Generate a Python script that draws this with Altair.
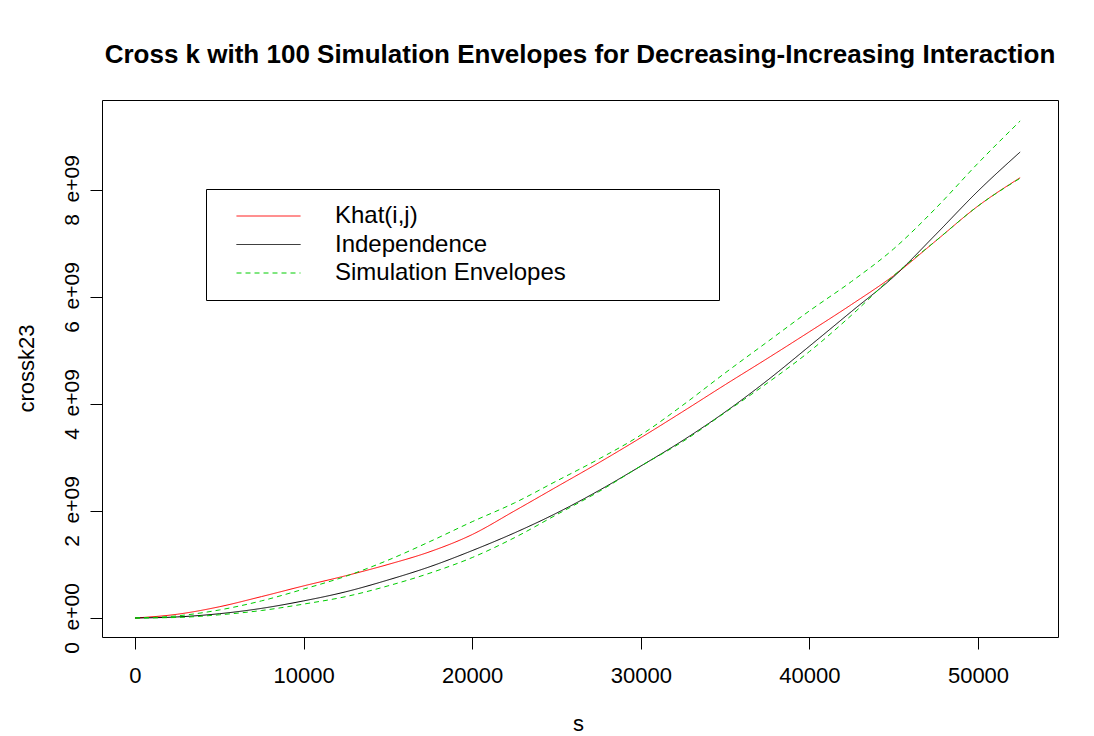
import altair as alt
import pandas as pd

# distance s
s_vals = [0, 2500, 5000, 7500, 10000, 12500, 15000, 17500, 20000, 22500, 25000,
          27500, 30000, 32500, 35000, 37500, 40000, 42500, 45000, 47500, 50000, 52500]
# values in units of 1e9
khat = [0.00, 0.07, 0.21, 0.40, 0.60, 0.79, 1.00, 1.24, 1.56, 2.00, 2.45,
        2.90, 3.37, 3.86, 4.36, 4.85, 5.35, 5.86, 6.40, 7.05, 7.70, 8.23]
indep = [0.00, 0.02, 0.08, 0.18, 0.32, 0.49, 0.71, 0.96, 1.26, 1.59, 1.96,
         2.38, 2.84, 3.32, 3.85, 4.44, 5.08, 5.73, 6.38, 7.17, 7.98, 8.71]
env_upper = [0.00, 0.04, 0.15, 0.32, 0.54, 0.78, 1.08, 1.43, 1.80, 2.15, 2.56,
             2.97, 3.42, 3.98, 4.58, 5.16, 5.74, 6.29, 6.90, 7.66, 8.50, 9.29]
env_lower = [0.00, 0.01, 0.06, 0.14, 0.26, 0.40, 0.60, 0.84, 1.13, 1.50, 1.93,
             2.36, 2.84, 3.30, 3.84, 4.39, 4.98, 5.66, 6.40, 7.05, 7.70, 8.22]

series_names = ["Khat(i,j)", "Independence", "Simulation Envelopes"]
series_colors = ["#FF0000", "#000000", "#00CD00"]
series_dash = [[1, 0], [1, 0], [5, 4]]

x_ticks = [0, 10000, 20000, 30000, 40000, 50000]
y_ticks = [0, 2, 4, 6, 8]

rows = []
for name, line, vals in [
    (series_names[0], "khat", khat),
    (series_names[1], "indep", indep),
    (series_names[2], "upper", env_upper),
    (series_names[2], "lower", env_lower),
]:
    for i, (s, v) in enumerate(zip(s_vals, vals)):
        rows.append({"s": s, "crossk23": v, "series": name, "line": line, "order": i})
df = pd.DataFrame(rows)

FONT = "Liberation Sans, Arial, sans-serif"
NB = "\u00a0"
# invisible spacer title that widens the legend box to the reference's width
SPACER = "MMMMMM"

chart = alt.Chart(df).mark_line(strokeWidth=1, interpolate="monotone").encode(
    x=alt.X("s:Q",
            scale=alt.Scale(domain=[-1957, 54745], nice=False, zero=False),
            axis=alt.Axis(values=x_ticks, format="d", title="s", domain=False, grid=False,
                          tickSize=12, tickColor="black", labelFontSize=22, labelColor="black",
                          labelPadding=16, labelFont=FONT, titleFont=FONT, titleFontSize=22,
                          titleFontWeight="normal", titleColor="black",
                          titleX=476, titleY=93, titleBaseline="alphabetic")),
    y=alt.Y("crossk23:Q",
            scale=alt.Scale(domain=[-0.355, 9.682], nice=False, zero=False),
            axis=alt.Axis(values=y_ticks, title="crossk23", domain=False, grid=False,
                          tickSize=12, tickColor="black", labelFontSize=21, labelColor="black",
                          labelAngle=-90, labelAlign="center", labelBaseline="alphabetic",
                          labelPadding=12, labelFont=FONT,
                          labelExpr="datum.value == 0 ? '0" + NB*2 + "e+00' : datum.value + '" + NB*2 + "e+09'",
                          titleFont=FONT, titleFontSize=22, titleFontWeight="normal",
                          titleColor="black", titleAngle=-90, titleX=-69, titleY=268,
                          titleBaseline="alphabetic", titleAlign="center")),
    color=alt.Color("series:N",
                    scale=alt.Scale(domain=series_names, range=series_colors),
                    legend=alt.Legend(title=SPACER)),
    strokeDash=alt.StrokeDash("series:N",
                              scale=alt.Scale(domain=series_names, range=series_dash),
                              legend=alt.Legend(title=SPACER)),
    detail="line:N",
    order="order:Q",
).properties(
    width=956,
    height=537,
    title=alt.TitleParams(
        "Cross k with 100 Simulation Envelopes for Decreasing-Increasing Interaction",
        font=FONT, fontSize=26, fontWeight="bold", color="black",
        anchor="middle", offset=32),
    autosize=alt.AutoSizeParams(type="none"),
    padding={"left": 94, "top": 92, "right": 28, "bottom": 99},
).configure_view(
    stroke="black", strokeWidth=1
).configure_legend(
    orient="none", legendX=104, legendY=89,
    strokeColor="black", fillColor="white", padding=15,
    symbolType="stroke", symbolSize=4096, symbolStrokeWidth=1, symbolOffset=15,
    clipHeight=24,
    labelFont=FONT, labelFontSize=24, labelColor="black", labelOffset=34, labelLimit=600,
    rowPadding=4.5, titleOrient="right", titleFont=FONT, titleFontSize=25,
    titleColor="white", titlePadding=13, titleLimit=600,
    cornerRadius=0,
)

chart.save("out.html", embed_options={"renderer": "svg", "actions": False})
